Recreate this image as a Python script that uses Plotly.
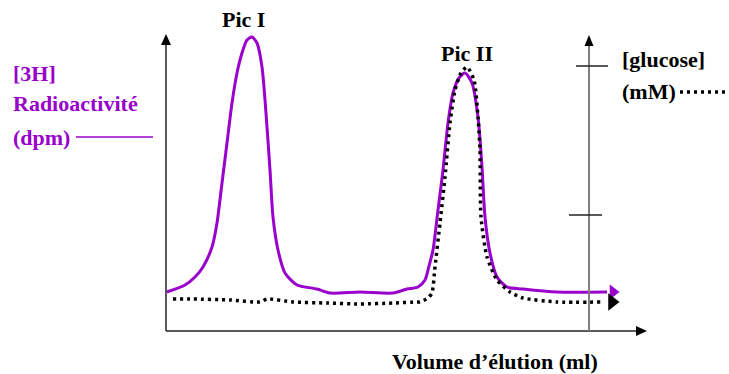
import plotly.graph_objects as go

# Schematic elution profile (arbitrary units: volume, signal)
radio_volume = [1, 19, 29, 37, 46, 51, 56, 61, 66, 71, 76, 81, 86, 91, 96, 100, 104, 107, 112, 119,
                131, 151, 164, 194, 227, 241, 252, 259, 263, 267, 272, 277, 282, 287, 293, 299,
                306, 312, 316, 319, 324, 331, 341, 357, 391, 441]
radio_signal = [39, 46, 54, 64, 84, 108, 148, 188, 228, 258, 278, 291, 294, 288, 264, 218, 161, 114,
                81, 58, 46, 42, 38, 39, 38, 42, 44, 51, 65, 81, 121, 161, 208, 238, 253, 258,
                248, 214, 164, 114, 78, 54, 44, 42, 39, 39]

glucose_volume = [7, 27, 64, 94, 101, 127, 161, 194, 227, 251, 254, 262, 266, 269, 274, 279, 284,
                  289, 295, 301, 308, 312, 314, 315, 321, 331, 344, 357, 391, 437]
glucose_signal = [32, 32, 31, 29, 32, 29, 28, 27, 28, 29, 29, 33, 38, 64, 108, 154, 208, 241, 258,
                  264, 251, 214, 181, 114, 74, 51, 39, 33, 29, 29]

PURPLE = "#9900CC"
FONT = "Liberation Serif"
DOTS = "3px,4px"

fig = go.Figure()

fig.add_trace(go.Scatter(
    x=radio_volume, y=radio_signal, mode="lines",
    line=dict(color=PURPLE, width=3, shape="spline", smoothing=0.7),
    hoverinfo="skip"))
fig.add_trace(go.Scatter(
    x=glucose_volume, y=glucose_signal, mode="lines",
    line=dict(color="black", width=3.5, dash=DOTS, shape="spline", smoothing=0.6),
    hoverinfo="skip"))

# arrowheads at curve ends
fig.add_trace(go.Scatter(x=[radio_volume[-1] + 6], y=[radio_signal[-1]], mode="markers",
                         marker=dict(symbol="triangle-right", size=13, color=PURPLE), hoverinfo="skip"))
fig.add_trace(go.Scatter(x=[glucose_volume[-1] + 9], y=[glucose_signal[-1]], mode="markers",
                         marker=dict(symbol="triangle-right", size=15, color="black"), hoverinfo="skip"))

# axes drawn as shapes
shapes = []
# left y axis
shapes.append(dict(type="line", x0=0, x1=0, y0=0, y1=290, line=dict(color="#222", width=1.5)))
shapes.append(dict(type="path", path="M -5,286 L 5,286 L 0,297 Z", fillcolor="black", line=dict(width=0)))
# x axis
shapes.append(dict(type="line", x0=0, x1=472, y0=0, y1=0, line=dict(color="#222", width=1.5)))
shapes.append(dict(type="path", path="M 470,-5 L 470,5 L 481,0 Z", fillcolor="black", line=dict(width=0)))
# right y axis (gray)
shapes.append(dict(type="line", x0=423, x1=423, y0=0, y1=288, line=dict(color="#808080", width=2)))
shapes.append(dict(type="path", path="M 418.5,285 L 427.5,285 L 423,296 Z", fillcolor="black", line=dict(width=0)))
# right axis ticks
shapes.append(dict(type="line", x0=410, x1=442, y0=265, y1=265, line=dict(color="#222", width=1.5)))
shapes.append(dict(type="line", x0=403, x1=436, y0=116, y1=116, line=dict(color="#222", width=1.5)))
# left label line
shapes.append(dict(type="line", x0=-90, x1=-13, y0=194, y1=194, line=dict(color=PURPLE, width=1.3)))
# legend dotted line for glucose
shapes.append(dict(type="line", x0=514, x1=566, y0=239, y1=239,
                   line=dict(color="black", width=3.5, dash=DOTS)))

annotations = []
def txt(s, x, y, color="black", xanchor="center", size=22):
    annotations.append(dict(text="<b>" + s + "</b>", x=x, y=y, xref="x", yref="y",
                            showarrow=False, xanchor=xanchor, yanchor="middle",
                            font=dict(family=FONT, size=size, color=color)))

txt("Pic I", 77, 312)
txt("Pic II", 301, 278)
txt("[glucose]", 454, 272, xanchor="left")
txt("(mM)", 454, 240, xanchor="left")
txt("Volume d’élution (ml)", 329, -30)
txt("[3H]", -155, 258, color=PURPLE, xanchor="left")
txt("Radioactivité", -155, 228, color=PURPLE, xanchor="left")
txt("(dpm)", -155, 194, color=PURPLE, xanchor="left")

fig.update_layout(
    width=729, height=374,
    margin=dict(l=0, r=0, t=0, b=0),
    paper_bgcolor="white", plot_bgcolor="white",
    showlegend=False,
    xaxis=dict(range=[-166, 563], visible=False, fixedrange=True),
    yaxis=dict(range=[-43, 331], visible=False, fixedrange=True),
    shapes=shapes, annotations=annotations,
)

fig.write_html("out.html")
